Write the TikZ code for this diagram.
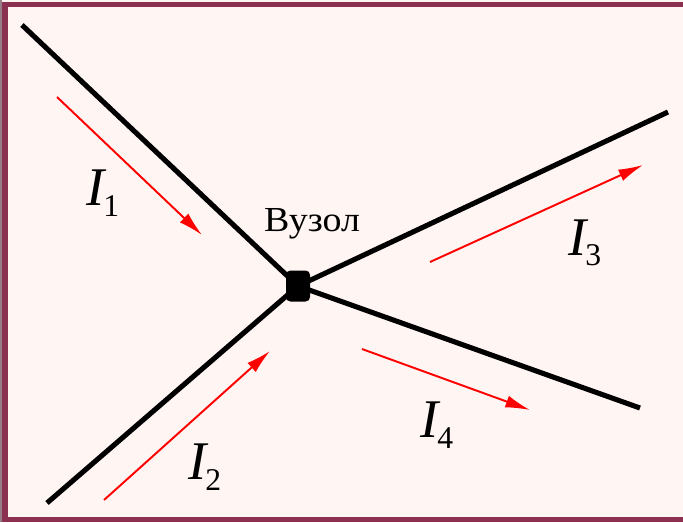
\documentclass[tikz,border=0pt]{standalone}
\usepackage{fontspec}
\setmainfont{Liberation Serif}
\usepackage{tikz}
\usetikzlibrary{arrows.meta, shapes.geometric}
\definecolor{framered}{RGB}{140,48,82}
\definecolor{paperpink}{RGB}{255,245,242}
\definecolor{edgegray}{RGB}{150,125,135}
\tikzset{
	wire/.style={line width=2.9pt, black}
}
\tikzset{
	currentarrow/.style={line width=1.1pt, red, -{Latex[length=14pt, width=7pt]}}
}
\newcommand{\curlabel}[1]{{\fontsize{31}{31}\selectfont\itshape I}\kern-1pt\raisebox{-6pt}{\fontsize{18}{18}\selectfont #1}}

\begin{document}
\begin{tikzpicture}[x=0.02cm, y=-0.02cm]

              \tikzset{
                junction/.style={
                    shape=rectangle,
                    rounded corners=2.5pt,
                    fill=black,
                    minimum width=0.48cm,
                    minimum height=0.62cm,
                    inner sep=0pt
                  }
              }

              % background and frame
              \useasboundingbox (0,0) rectangle (683,522);
              \fill[paperpink] (0,0) rectangle (683,522);
              \fill[framered] (0,2) rectangle (683,7);
              \fill[framered] (2,2) rectangle (8,522);
              \fill[framered] (0,517) rectangle (683,522);
              \fill[edgegray] (0,0) rectangle (2,522);

              \node[junction] (n) at (298,286) {};

              \coordinate (w1) at (22,25);
              \coordinate (w2) at (47,503);
              \coordinate (w3) at (668,112);
              \coordinate (w4) at (640,408);

              \draw[wire] (w1) -- (n.center);
              \draw[wire] (w2) -- (n.center);
              \draw[wire] (n.center) -- (w3);
              \draw[wire] (n.center) -- (w4);

              \node[font=\fontsize{20}{22}\selectfont, xscale=1.08] (name) at (312,224) {Вузол};

              % currents
              \coordinate (a1) at (57,97);   \coordinate (b1) at (202,235);
              \coordinate (a2) at (104,500); \coordinate (b2) at (270,351);
              \coordinate (a3) at (430,262); \coordinate (b3) at (643,165);
              \coordinate (a4) at (362,349); \coordinate (b4) at (530,410);

              \draw[currentarrow] (a1) -- (b1);
              \draw[currentarrow] (a2) -- (b2);
              \draw[currentarrow] (a3) -- (b3);
              \draw[currentarrow] (a4) -- (b4);

              \node (i1) at (103,193) {\curlabel{1}};
              \node (i2) at (205,467) {\curlabel{2}};
              \node (i3) at (585,243) {\curlabel{3}};
              \node (i4) at (437,425) {\curlabel{4}};

            \end{tikzpicture}
\end{document}
